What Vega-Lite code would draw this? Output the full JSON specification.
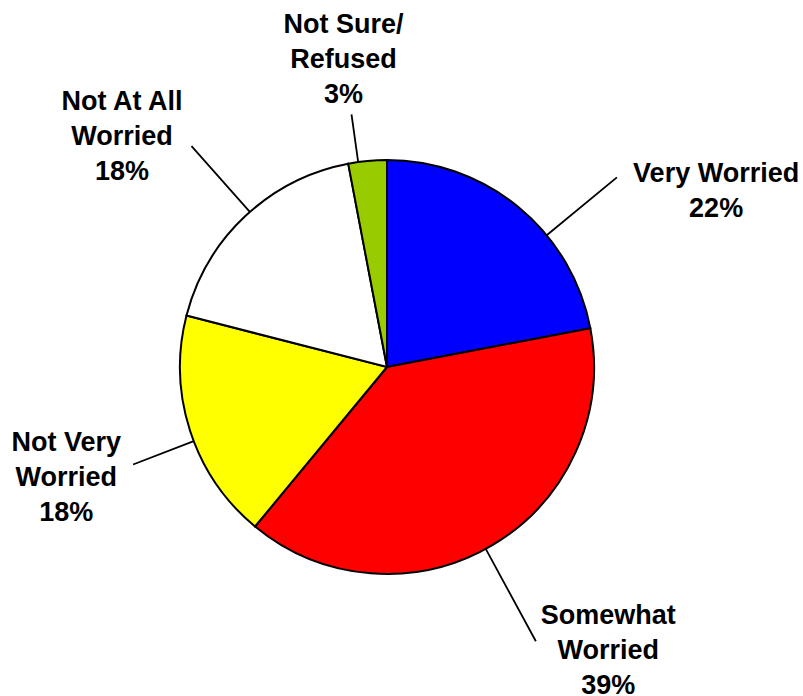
{
  "$schema": "https://vega.github.io/schema/vega-lite/v6.json",
  "width": 774,
  "height": 658,
  "autosize": {"type": "none"},
  "padding": {"left": 0, "top": 38, "right": 29, "bottom": 0},
  "background": "white",
  "config": {"view": {"stroke": null}},
  "data": {
    "values": [
      {"order": 1, "category": "Very Worried", "label": "Very Worried\n22%", "value": 22},
      {"order": 2, "category": "Somewhat Worried", "label": "Somewhat\nWorried\n39%", "value": 39},
      {"order": 3, "category": "Not Very Worried", "label": "Not Very\nWorried\n18%", "value": 18},
      {"order": 4, "category": "Not At All Worried", "label": "Not At All\nWorried\n18%", "value": 18},
      {"order": 5, "category": "Not Sure/Refused", "label": "Not Sure/\nRefused\n3%", "value": 3}
    ]
  },
  "transform": [
    {"stack": "value", "groupby": [], "sort": [{"field": "order", "order": "ascending"}], "as": ["v0", "v1"]},
    {"calculate": "(datum.v0 + datum.v1) / 2", "as": "mid"}
  ],
  "layer": [
    {
      "mark": {"type": "arc", "outerRadius": 207, "stroke": "black", "strokeWidth": 2},
      "encoding": {
        "theta": {"field": "v0", "type": "quantitative", "scale": {"domain": [0, 100]}, "stack": null},
        "theta2": {"field": "v1"},
        "color": {
          "field": "category",
          "type": "nominal",
          "scale": {
            "domain": ["Very Worried", "Somewhat Worried", "Not Very Worried", "Not At All Worried", "Not Sure/Refused"],
            "range": ["#0000FF", "#FF0000", "#FFFF00", "#FFFFFF", "#99CC00"]
          },
          "legend": null
        }
      }
    },
    {
      "transform": [{"filter": "datum.category === 'Very Worried'"}],
      "mark": {"type": "arc", "radius": 298, "radius2": 207, "thetaOffset": 0.19, "theta2Offset": 0.19, "stroke": "black", "strokeWidth": 1.8, "fillOpacity": 0},
      "encoding": {
        "theta": {"field": "mid", "type": "quantitative", "scale": {"domain": [0, 100]}, "stack": null},
        "theta2": {"field": "mid"}
      }
    },
    {
      "transform": [{"filter": "datum.category === 'Somewhat Worried'"}],
      "mark": {"type": "arc", "radius": 312, "radius2": 207, "thetaOffset": 0.0367, "theta2Offset": 0.0367, "stroke": "black", "strokeWidth": 1.8, "fillOpacity": 0},
      "encoding": {
        "theta": {"field": "mid", "type": "quantitative", "scale": {"domain": [0, 100]}, "stack": null},
        "theta2": {"field": "mid"}
      }
    },
    {
      "transform": [{"filter": "datum.category === 'Not Very Worried'"}],
      "mark": {"type": "arc", "radius": 272, "radius2": 207, "thetaOffset": -0.0524, "theta2Offset": -0.0524, "stroke": "black", "strokeWidth": 1.8, "fillOpacity": 0},
      "encoding": {
        "theta": {"field": "mid", "type": "quantitative", "scale": {"domain": [0, 100]}, "stack": null},
        "theta2": {"field": "mid"}
      }
    },
    {
      "transform": [{"filter": "datum.category === 'Not At All Worried'"}],
      "mark": {"type": "arc", "radius": 295, "radius2": 207, "thetaOffset": 0.0297, "theta2Offset": 0.0297, "stroke": "black", "strokeWidth": 1.8, "fillOpacity": 0},
      "encoding": {
        "theta": {"field": "mid", "type": "quantitative", "scale": {"domain": [0, 100]}, "stack": null},
        "theta2": {"field": "mid"}
      }
    },
    {
      "transform": [{"filter": "datum.category === 'Not Sure/Refused'"}],
      "mark": {"type": "arc", "radius": 255, "radius2": 207, "thetaOffset": -0.0454, "theta2Offset": -0.0454, "stroke": "black", "strokeWidth": 1.8, "fillOpacity": 0},
      "encoding": {
        "theta": {"field": "mid", "type": "quantitative", "scale": {"domain": [0, 100]}, "stack": null},
        "theta2": {"field": "mid"}
      }
    },
    {
      "transform": [{"filter": "datum.category === 'Very Worried'"}],
      "mark": {"type": "text", "radius": 372, "dx": 92, "dy": 94, "fontSize": 27, "fontWeight": "bold", "font": "Liberation Sans", "lineBreak": "\n", "lineHeight": 35, "align": "center", "baseline": "middle", "color": "black"},
      "encoding": {
        "theta": {"field": "mid", "type": "quantitative", "scale": {"domain": [0, 100]}, "stack": null},
        "text": {"field": "label"}
      }
    },
    {
      "transform": [{"filter": "datum.category === 'Somewhat Worried'"}],
      "mark": {"type": "text", "radius": 356, "dx": 40, "dy": -57, "fontSize": 27, "fontWeight": "bold", "font": "Liberation Sans", "lineBreak": "\n", "lineHeight": 35, "align": "center", "baseline": "middle", "color": "black"},
      "encoding": {
        "theta": {"field": "mid", "type": "quantitative", "scale": {"domain": [0, 100]}, "stack": null},
        "text": {"field": "label"}
      }
    },
    {
      "transform": [{"filter": "datum.category === 'Not Very Worried'"}],
      "mark": {"type": "text", "radius": 334, "dx": -3, "dy": -27, "fontSize": 27, "fontWeight": "bold", "font": "Liberation Sans", "lineBreak": "\n", "lineHeight": 35, "align": "center", "baseline": "middle", "color": "black"},
      "encoding": {
        "theta": {"field": "mid", "type": "quantitative", "scale": {"domain": [0, 100]}, "stack": null},
        "text": {"field": "label"}
      }
    },
    {
      "transform": [{"filter": "datum.category === 'Not At All Worried'"}],
      "mark": {"type": "text", "radius": 349, "dx": -26, "dy": -11, "fontSize": 27, "fontWeight": "bold", "font": "Liberation Sans", "lineBreak": "\n", "lineHeight": 35, "align": "center", "baseline": "middle", "color": "black"},
      "encoding": {
        "theta": {"field": "mid", "type": "quantitative", "scale": {"domain": [0, 100]}, "stack": null},
        "text": {"field": "label"}
      }
    },
    {
      "transform": [{"filter": "datum.category === 'Not Sure/Refused'"}],
      "mark": {"type": "text", "radius": 314, "dx": -14, "dy": -29, "fontSize": 27, "fontWeight": "bold", "font": "Liberation Sans", "lineBreak": "\n", "lineHeight": 35, "align": "center", "baseline": "middle", "color": "black"},
      "encoding": {
        "theta": {"field": "mid", "type": "quantitative", "scale": {"domain": [0, 100]}, "stack": null},
        "text": {"field": "label"}
      }
    }
  ]
}
